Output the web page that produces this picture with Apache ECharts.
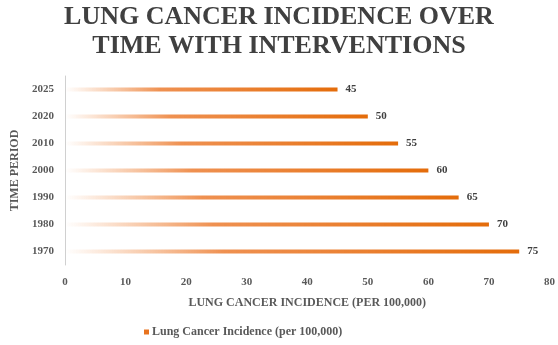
<!DOCTYPE html>
<html>
<head>
<meta charset="utf-8">
<script src="https://cdn.jsdelivr.net/npm/echarts@6/dist/echarts.min.js"></script>
<style>
  html, body { margin: 0; padding: 0; background: #fff; }
  #chart { width: 558px; height: 345px; }
</style>
</head>
<body>
<div id="chart"></div>
<script>
// Time periods, bottom to top
const periods = ['1970', '1980', '1990', '2000', '2010', '2020', '2025'];
// Lung cancer incidence per 100,000
const incidence = [75, 70, 65, 60, 55, 50, 45];
const seriesName = 'Lung Cancer Incidence (per 100,000)';

const serif = 'Liberation Serif, Times New Roman, serif';
const orange = '#E8731F';

const chart = echarts.init(document.getElementById('chart'), null, { renderer: 'canvas' });
chart.setOption({
  animation: false,
  title: {
    text: 'LUNG CANCER INCIDENCE OVER\nTIME WITH INTERVENTIONS',
    left: 'center',
    top: 0,
    padding: [3, 0, 0, 14],
    textStyle: {
      fontFamily: serif,
      fontWeight: 'bold',
      fontSize: 26,
      lineHeight: 29,
      color: '#404040'
    }
  },
  legend: {
    top: 326,
    left: 144,
    padding: 0,
    itemWidth: 5,
    itemHeight: 5,
    itemGap: 4,
    icon: 'rect',
    textStyle: { fontFamily: serif, fontWeight: 'bold', fontSize: 12, color: '#595959', padding: [0, 0, 0, -2] },
    data: [{ name: seriesName, itemStyle: { color: orange } }]
  },
  grid: { left: 65, right: 3, top: 76, bottom: 80, containLabel: false },
  xAxis: {
    type: 'value',
    min: 0,
    max: 80,
    interval: 10,
    name: 'LUNG CANCER INCIDENCE (PER 100,000)',
    nameLocation: 'middle',
    nameGap: 32,
    nameTextStyle: { fontFamily: serif, fontWeight: 'bold', fontSize: 12, color: '#595959' },
    axisLine: { show: false },
    axisTick: { show: false },
    splitLine: { show: false },
    axisLabel: { fontFamily: serif, fontWeight: 'bold', fontSize: 11, color: '#595959', margin: 12 }
  },
  yAxis: {
    type: 'category',
    data: periods,
    name: 'TIME PERIOD',
    nameLocation: 'middle',
    nameGap: 43,
    nameRotate: 90,
    nameTextStyle: { fontFamily: serif, fontWeight: 'bold', fontSize: 12, color: '#595959' },
    axisLine: { show: true, lineStyle: { color: '#D0D0D0', width: 1 } },
    axisTick: { show: false },
    axisLabel: { fontFamily: serif, fontWeight: 'bold', fontSize: 11, color: '#595959', margin: 11 }
  },
  series: [{
    name: seriesName,
    type: 'bar',
    data: incidence,
    barWidth: 4,
    itemStyle: {
      color: new echarts.graphic.LinearGradient(0, 0, 1, 0, [
        { offset: 0, color: 'rgba(240,140,70,0)' },
        { offset: 0.35, color: 'rgba(236,125,50,0.85)' },
        { offset: 1, color: '#E46C0A' }
      ])
    },
    label: {
      show: true,
      position: 'right',
      distance: 8,
      fontFamily: serif,
      fontWeight: 'bold',
      fontSize: 11,
      color: '#404040'
    }
  }]
});
</script>
</body>
</html>
